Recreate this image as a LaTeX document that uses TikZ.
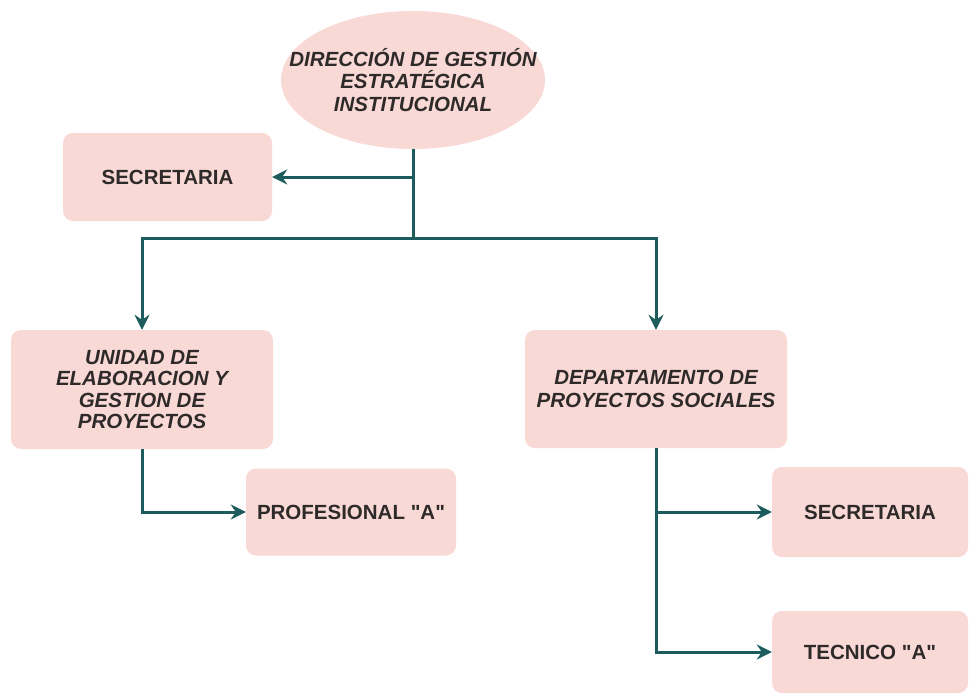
\documentclass[tikz,border=0pt]{standalone}
\usepackage{fontspec}
\newfontfamily\chartfont{Liberation Sans}
\usetikzlibrary{shapes.geometric, arrows.meta}

\definecolor{boxpink}{HTML}{F9D9D5}
\definecolor{linkteal}{HTML}{1D5C5C}
\definecolor{textgray}{HTML}{2E2A2A}

\begin{document}
\begin{tikzpicture}[x=1pt, y=-1pt,
    unitbox/.style={rectangle, rounded corners=10pt, fill=boxpink, draw=none,
        text=textgray, align=center, inner sep=0pt,
        font=\chartfont\fontsize{20.5}{22.5}\selectfont\bfseries},
    headunit/.style={ellipse, fill=boxpink, draw=none, text=textgray,
        align=center, inner xsep=-31pt, inner ysep=0pt,
        font=\chartfont\fontsize{20.5}{22.5}\selectfont\bfseries\itshape},
    link/.style={draw=linkteal, line width=3pt},
    arrowlink/.style={link, -{Stealth[length=15pt, width=15pt, inset=5pt]}}]
        \useasboundingbox (0, 0) rectangle (972, 694);

        \node[headunit, minimum width=264pt, minimum height=138pt] at (413, 80) (dir)
            {DIRECCIÓN DE GESTIÓN\\ESTRATÉGICA\\INSTITUCIONAL};
        \node[unitbox, minimum width=209pt, minimum height=88pt] at (167.5, 177) (sec1)
            {SECRETARIA};
        \node[unitbox, font=\chartfont\fontsize{20.5}{21.5}\selectfont\bfseries\itshape,
            minimum width=262pt, minimum height=119pt] at (142, 389.5) (unidad)
            {UNIDAD DE\\ELABORACION Y\\GESTION DE\\PROYECTOS};
        \node[unitbox, font=\chartfont\fontsize{20.5}{22.5}\selectfont\bfseries\itshape,
            minimum width=262pt, minimum height=118pt] at (656, 389) (depto)
            {DEPARTAMENTO DE\\PROYECTOS SOCIALES};
        \node[unitbox, minimum width=210pt, minimum height=87pt] at (351, 512) (prof)
            {PROFESIONAL "A"};
        \node[unitbox, minimum width=196pt, minimum height=90pt] at (870, 512) (sec2)
            {SECRETARIA};
        \node[unitbox, minimum width=196pt, minimum height=82pt] at (870, 652) (tec)
            {TECNICO "A"};

        \coordinate (j1) at (413, 177);
        \coordinate (j2) at (413, 238);

        \draw[link] (dir) -- (j2);
        \draw[arrowlink] (j1) -- (sec1);
        \draw[arrowlink] (j2) -| (unidad);
        \draw[arrowlink] (j2) -| (depto);
        \draw[arrowlink] (unidad) |- (prof);
        \draw[arrowlink] (depto) |- (sec2);
        \draw[arrowlink] (depto) |- (tec);
    \end{tikzpicture}
\end{document}
